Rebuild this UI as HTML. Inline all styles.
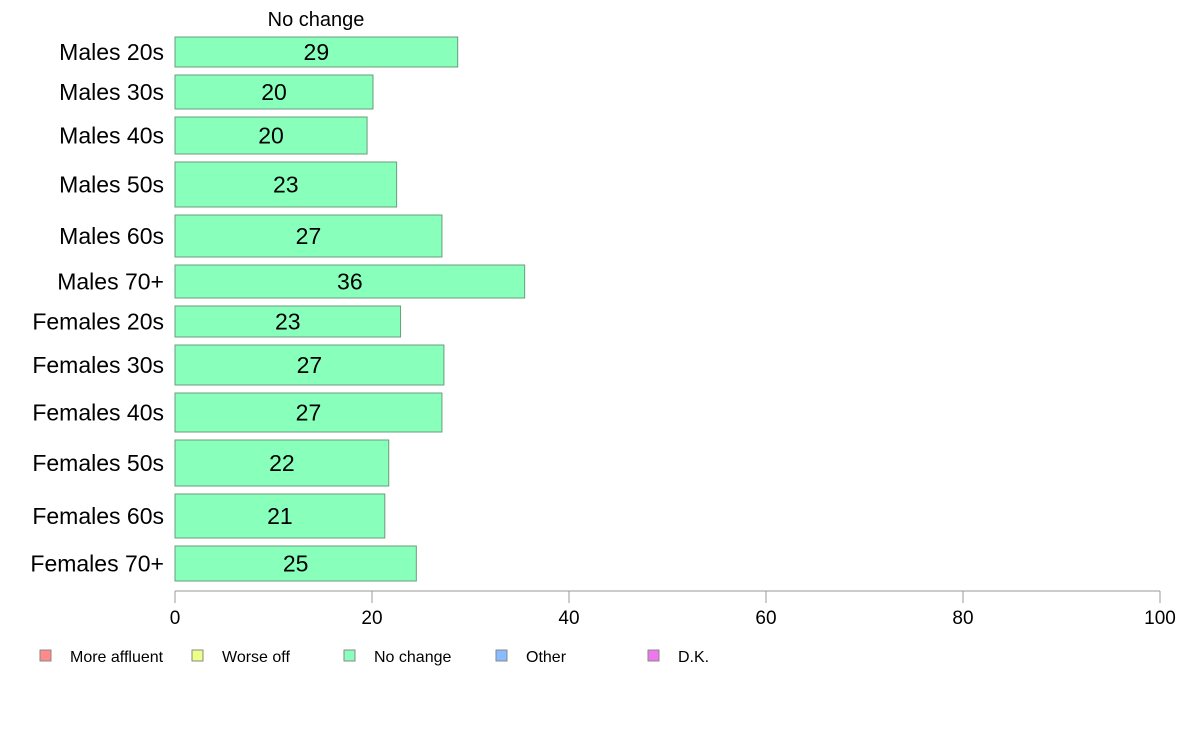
<!DOCTYPE html>
<html><head><meta charset="utf-8"><style>body{margin:0;background:#fff}svg{display:block;font-family:"Liberation Sans",Arial,sans-serif}</style></head>
<body>
<svg id="chart" width="1188" height="736" viewBox="0 0 1188 736" xmlns="http://www.w3.org/2000/svg">
<text x="316" y="26" font-size="20" text-anchor="middle">No change</text>
<g id="bars"></g>
<g id="axis"></g>
<g id="legend"></g>
</svg>
<script>
const categories=["Males 20s","Males 30s","Males 40s","Males 50s","Males 60s","Males 70+","Females 20s","Females 30s","Females 40s","Females 50s","Females 60s","Females 70+"];
const values=[28.7,20.1,19.5,22.5,27.1,35.5,22.9,27.3,27.1,21.7,21.3,24.5];
const labels=["29","20","20","23","27","36","23","27","27","22","21","25"];
const weights=[30,34,37,45,42,33,31,40,39,46,44,35];
const ticks=[0,20,40,60,80,100];
const legendNames=["More affluent","Worse off","No change","Other","D.K."];
const legendColors=["#ff8a8a","#eeff88","#88ffbb","#88bbff","#ee77ee"];
const NS="http://www.w3.org/2000/svg";
const x0=175,x1=1160,yTop=37,yBot=581,gap=8;
const xs=v=>x0+(v/100)*(x1-x0);
function mk(t,a,p){const e=document.createElementNS(NS,t);for(const k in a)e.setAttribute(k,a[k]);p.appendChild(e);return e;}
const bars=document.getElementById('bars');
const totalW=weights.reduce((a,b)=>a+b,0);
const scale=(yBot-yTop-gap*(weights.length-1))/totalW;
let y=yTop;
categories.forEach((c,i)=>{
  const h=weights[i]*scale;
  const r=mk('rect',{x:x0,y:y,width:xs(values[i])-x0,height:h,fill:'#88ffbb',stroke:'#6a9c7e','stroke-width':1},bars);
  
  
  const t=mk('text',{x:(x0+xs(values[i]))/2,y:y+h/2+8,'font-size':23,'text-anchor':'middle'},bars);
  t.textContent=labels[i];
  
  
  const l=mk('text',{x:164,y:y+h/2+8,'font-size':23,'text-anchor':'end'},bars);
  l.textContent=c;
  
  
  y+=h+gap;
});
const ax=document.getElementById('axis');
const al=mk('line',{x1:x0,x2:x1,y1:591,y2:591,stroke:'#999','stroke-width':1},ax);


ticks.forEach(v=>{
  const tl=mk('line',{x1:xs(v),x2:xs(v),y1:591,y2:603,stroke:'#999'},ax);
  
  
  const tt=mk('text',{x:xs(v),y:624,'font-size':19,'text-anchor':'middle'},ax);
  tt.textContent=v;
  
  
});
const lg=document.getElementById('legend');
const lx=[40,192,344,496,648];
legendNames.forEach((n,i)=>{
  const r=mk('rect',{x:lx[i],y:650,width:11,height:11,fill:legendColors[i],stroke:'#888'},lg);
  
  
  const t=mk('text',{x:lx[i]+30,y:662,'font-size':16},lg);
  t.textContent=n;
  
  
});
</script>
</body></html>
